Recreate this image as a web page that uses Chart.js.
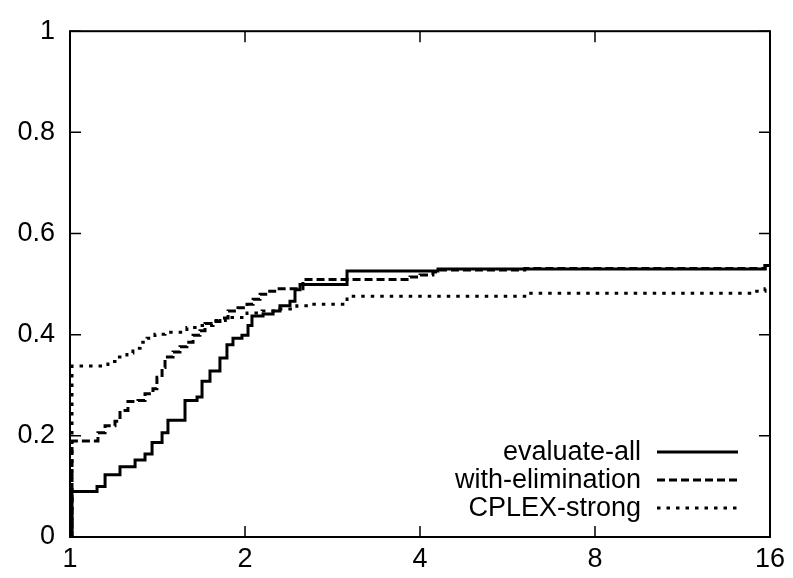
<!DOCTYPE html>
<html>
<head>
<meta charset="utf-8">
<script src="https://cdn.jsdelivr.net/npm/chart.js@4/dist/chart.umd.min.js"></script>
<style>
  html, body { margin: 0; padding: 0; background: #fff; }
  #wrap { width: 793px; height: 578px; }
</style>
</head>
<body>
<div id="wrap"><canvas id="c"></canvas></div>
<script>
// 性能プロファイル（x は対数2 目盛り）

// 目盛り
const xTicks = [1, 2, 4, 8, 16];
const yTicks = [0, 0.2, 0.4, 0.6, 0.8, 1];

// 各系列の点（x: 比率, y: 割合）。値は図から読み取り
const evaluateAllX = [1, 1.008, 1.113, 1.149, 1.219, 1.294, 1.346, 1.384, 1.44, 1.474, 1.577, 1.654, 1.687, 1.741, 1.811, 1.862, 1.907, 1.976, 2.024, 2.056, 2.148, 2.235, 2.297, 2.39, 2.438, 2.487, 2.996, 4.296, 15.69, 16];
const evaluateAllY = [0, 0.09, 0.10, 0.123, 0.139, 0.152, 0.164, 0.187, 0.206, 0.231, 0.27, 0.277, 0.308, 0.328, 0.354, 0.38, 0.393, 0.399, 0.418, 0.437, 0.441, 0.447, 0.457, 0.466, 0.489, 0.499, 0.526, 0.53, 0.537, 0.537];

const withElimX = [1, 1.008, 1.117, 1.149, 1.195, 1.219, 1.258, 1.309, 1.346, 1.389, 1.411, 1.44, 1.457, 1.504, 1.546, 1.589, 1.628, 1.673, 1.707, 1.762, 1.811, 1.87, 1.945, 2.016, 2.065, 2.123, 2.19, 2.27, 2.516, 3.845, 4.0, 4.21, 4.33, 6.06, 15.69, 16];
const withElimY = [0, 0.19, 0.206, 0.22, 0.229, 0.25, 0.268, 0.27, 0.283, 0.293, 0.316, 0.335, 0.356, 0.366, 0.376, 0.385, 0.399, 0.408, 0.422, 0.426, 0.433, 0.447, 0.453, 0.46, 0.47, 0.48, 0.486, 0.491, 0.509, 0.514, 0.518, 0.524, 0.528, 0.531, 0.537, 0.537];

const cplexX = [1, 1.008, 1.162, 1.209, 1.253, 1.283, 1.32, 1.357, 1.40, 1.457, 1.589, 1.673, 1.762, 1.85, 2.016, 2.14, 2.297, 2.456, 2.587, 2.996, 6.13, 15.07, 15.69, 16];
const cplexY = [0, 0.338, 0.347, 0.356, 0.364, 0.373, 0.385, 0.393, 0.401, 0.405, 0.414, 0.418, 0.428, 0.434, 0.443, 0.447, 0.451, 0.457, 0.46, 0.476, 0.482, 0.486, 0.491, 0.491];

const seriesLabels = ["evaluate-all", "with-elimination", "CPLEX-strong"];

function toPoints(xs, ys) {
  return xs.map((x, i) => ({ x: x, y: ys[i] }));
}

const FONT = "Liberation Sans, Arial, Helvetica, sans-serif";
const FONT_SIZE = 27;

// 枠・内向きの目盛り・凡例を描くプラグイン
const framePlugin = {
  id: "frame",
  afterDatasetsDraw(chart) {
    const ctx = chart.ctx;
    const a = chart.chartArea;
    const xs = chart.scales.x;
    const ys = chart.scales.y;
    const tl = 11;
    ctx.save();
    ctx.strokeStyle = "#000";
    ctx.lineWidth = 2;
    ctx.setLineDash([]);
    ctx.strokeRect(a.left, a.top, a.right - a.left, a.bottom - a.top);
    ctx.lineWidth = 1.5;
    ctx.beginPath();
    xTicks.forEach((v) => {
      const px = xs.getPixelForValue(v);
      ctx.moveTo(px, a.bottom); ctx.lineTo(px, a.bottom - tl);
      ctx.moveTo(px, a.top); ctx.lineTo(px, a.top + tl);
    });
    yTicks.forEach((v) => {
      const py = ys.getPixelForValue(v);
      ctx.moveTo(a.left, py); ctx.lineTo(a.left + tl, py);
      ctx.moveTo(a.right, py); ctx.lineTo(a.right - tl, py);
    });
    ctx.stroke();

    // 凡例（右下、文字は右寄せ、線見本は右）
    ctx.font = FONT_SIZE + "px " + FONT;
    ctx.fillStyle = "#000";
    ctx.textAlign = "right";
    ctx.textBaseline = "middle";
    chart.data.datasets.forEach((ds, i) => {
      const y = 452 + i * 28;
      ctx.fillText(ds.label, 641, y + 1);
      ctx.beginPath();
      ctx.lineWidth = ds.borderWidth;
      ctx.setLineDash(ds.borderDash || []);
      ctx.moveTo(657, y); ctx.lineTo(738, y);
      ctx.stroke();
    });
    ctx.restore();
  },
};

new Chart(document.getElementById("c"), {
  type: "line",
  data: {
    datasets: [
      {
        label: seriesLabels[0],
        data: toPoints(evaluateAllX, evaluateAllY),
        borderColor: "#000",
        borderWidth: 3,
        stepped: "before",
        pointRadius: 0,
      },
      {
        label: seriesLabels[1],
        data: toPoints(withElimX, withElimY),
        borderColor: "#000",
        borderWidth: 3,
        borderDash: [8, 4],
        stepped: "before",
        pointRadius: 0,
      },
      {
        label: seriesLabels[2],
        data: toPoints(cplexX, cplexY),
        borderColor: "#000",
        borderWidth: 3,
        borderDash: [3.5, 6],
        stepped: "before",
        pointRadius: 0,
      },
    ],
  },
  options: {
    responsive: true,
    maintainAspectRatio: false,
    animation: false,
    layout: { padding: { left: 0, right: 23, top: 19, bottom: 0 } },
    plugins: { legend: { display: false }, tooltip: { enabled: false } },
    scales: {
      x: {
        type: "logarithmic",
        min: 1,
        max: 16,
        grid: { display: false, drawTicks: false },
        border: { display: false },
        afterBuildTicks: (s) => { s.ticks = xTicks.map((v) => ({ value: v })); },
        afterFit: (s) => { s.height = 41; },
        ticks: {
          color: "#000",
          padding: 6,
          font: { family: FONT, size: FONT_SIZE },
          maxRotation: 0,
          autoSkip: false,
          callback: (v) => String(v),
        },
      },
      y: {
        type: "linear",
        min: 0,
        max: 1,
        grid: { display: false, drawTicks: false },
        border: { display: false },
        afterBuildTicks: (s) => { s.ticks = yTicks.map((v) => ({ value: v })); },
        afterFit: (s) => { s.width = 70; },
        ticks: {
          color: "#000",
          padding: 15,
          font: { family: FONT, size: FONT_SIZE },
          callback: (v) => String(v),
        },
      },
    },
  },
  plugins: [framePlugin],
});
</script>
</body>
</html>
